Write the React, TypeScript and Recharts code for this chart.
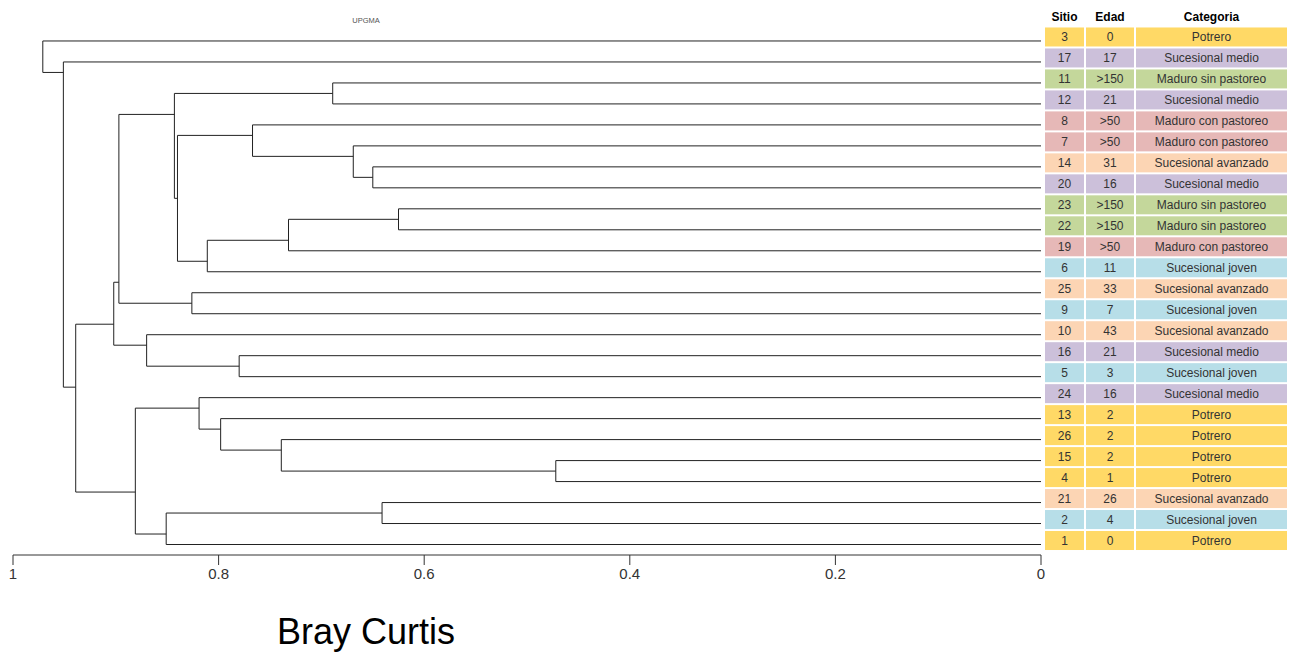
import React from 'react';
import { ComposedChart, XAxis, YAxis, ReferenceLine, Scatter, Customized } from 'recharts';

// Leaves, top to bottom
const sitio = [3, 17, 11, 12, 8, 7, 14, 20, 23, 22, 19, 6, 25, 9, 10, 16, 5, 24, 13, 26, 15, 4, 21, 2, 1];
const edad = ['0', '17', '>150', '21', '>50', '>50', '31', '16', '>150', '>150', '>50', '11', '33', '7', '43', '21', '3', '16', '2', '2', '2', '1', '26', '4', '0'];
const categoria = [
  'Potrero', 'Sucesional medio', 'Maduro sin pastoreo', 'Sucesional medio', 'Maduro con pastoreo',
  'Maduro con pastoreo', 'Sucesional avanzado', 'Sucesional medio', 'Maduro sin pastoreo', 'Maduro sin pastoreo',
  'Maduro con pastoreo', 'Sucesional joven', 'Sucesional avanzado', 'Sucesional joven', 'Sucesional avanzado',
  'Sucesional medio', 'Sucesional joven', 'Sucesional medio', 'Potrero', 'Potrero',
  'Potrero', 'Potrero', 'Sucesional avanzado', 'Sucesional joven', 'Potrero',
];

// hclust-style merges: negative = leaf (-1 is first leaf), positive = earlier merge (1-based)
const mergeA = [-3, -7, -6, -5, -9, 5, 6, 4, 1, -13, 9, -16, -15, 11, -21, -20, -19, -18, -23, 19, 18, 14, -2, -1];
const mergeB = [-4, -8, 2, 3, -10, -11, -12, 7, 8, -14, 10, -17, 12, 13, -22, 15, 16, 17, -24, -25, 20, 21, 22, 23];
const mergeHeight = [0.689, 0.650, 0.669, 0.767, 0.625, 0.732, 0.811, 0.840, 0.843, 0.826, 0.897, 0.780, 0.870, 0.902,
  0.472, 0.739, 0.798, 0.819, 0.641, 0.851, 0.881, 0.939, 0.951, 0.971];

const xTicks = [0, 0.2, 0.4, 0.6, 0.8, 1];
const headers = ['Sitio', 'Edad', 'Categoria'];

const categoryColors: Record<string, string> = {
  'Potrero': '#FFD966',
  'Sucesional medio': '#CCC0DA',
  'Maduro sin pastoreo': '#C4D79B',
  'Maduro con pastoreo': '#E6B8B7',
  'Sucesional avanzado': '#FCD5B4',
  'Sucesional joven': '#B7DEE8',
};

const FONT = '"Liberation Sans", Arial, sans-serif';

function maxLeaf(ref: number): number {
  if (ref < 0) return -ref - 1;
  return Math.max(maxLeaf(mergeA[ref - 1]), maxLeaf(mergeB[ref - 1]));
}
function attach(ref: number): number {
  if (ref < 0) return -ref - 1;
  return maxLeaf(mergeA[ref - 1]) + 0.5;
}
function heightOf(ref: number): number {
  return ref < 0 ? 0 : mergeHeight[ref - 1];
}

type Seg = { x1: number; y1: number; x2: number; y2: number };
const segments: Seg[] = [];
mergeHeight.forEach((h, k) => {
  const a = mergeA[k];
  const b = mergeB[k];
  [a, b].forEach((c) => {
    segments.push({ x1: heightOf(c), y1: attach(c), x2: h, y2: attach(c) });
  });
  segments.push({ x1: h, y1: attach(a), x2: h, y2: attach(b) });
});

const leafPoints = sitio.map((_, i) => ({ x: 0, y: i }));
const yTicks = [-1, ...sitio.map((_, i) => i)];

function TableRow(props: any) {
  const { x, y, payload } = props;
  const i = payload.value;
  const cols = [
    { off: 4, w: 39 },
    { off: 45, w: 48 },
    { off: 95, w: 151 },
  ];
  if (i === -1) {
    return (
      <g>
        {headers.map((h, c) => (
          <text key={h} x={x + cols[c].off + cols[c].w / 2} y={y + 0.5} textAnchor="middle"
            fontFamily={FONT} fontSize={12} fontWeight="bold" fill="#000">{h}</text>
        ))}
      </g>
    );
  }
  const color = categoryColors[categoria[i]];
  const vals = [String(sitio[i]), edad[i], categoria[i]];
  return (
    <g>
      {cols.map((col, c) => (
        <g key={c}>
          <rect x={x + col.off} y={y - 13.5} width={col.w} height={19} fill={color} />
          <text x={x + col.off + col.w / 2} y={y - 4} textAnchor="middle" dominantBaseline="central"
            fontFamily={FONT} fontSize={12} fill="#333">{vals[c]}</text>
        </g>
      ))}
    </g>
  );
}

function Titles() {
  return (
    <g>
      <text x={366} y={22.5} textAnchor="middle" fontFamily={FONT} fontSize={7.5} fill="#555">UPGMA</text>
      <text x={277} y={644} fontFamily={FONT} fontSize={36} fill="#000">Bray Curtis</text>
    </g>
  );
}

export default function App() {
  return (
    <div style={{ position: 'absolute', left: 0, top: 0, width: 1291, height: 652, background: '#fff' }}>
      <ComposedChart width={1291} height={652} margin={{ top: 20, right: 0, bottom: 0, left: 13 }}>
        <XAxis type="number" dataKey="x" domain={[0, 1]} reversed ticks={xTicks} interval={0}
          height={97} tickSize={10} tickMargin={3} allowDataOverflow
          axisLine={{ stroke: '#333' }} tickLine={{ stroke: '#333' }}
          tick={{ fontSize: 15, fill: '#333', fontFamily: FONT }} />
        <YAxis type="number" dataKey="y" orientation="right" domain={[-1, 24.5]} reversed ticks={yTicks}
          interval={0} width={250} axisLine={false} tickLine={false} tickSize={0} tickMargin={0}
          allowDataOverflow tick={<TableRow />} />
        <Scatter data={leafPoints} isAnimationActive={false} shape={() => <g />} />
        {segments.map((s, idx) => (
          <ReferenceLine key={idx} segment={[{ x: s.x1, y: s.y1 }, { x: s.x2, y: s.y2 }]}
            stroke="#222" strokeWidth={1} ifOverflow="visible" />
        ))}
        <Customized component={Titles} />
      </ComposedChart>
    </div>
  );
}
